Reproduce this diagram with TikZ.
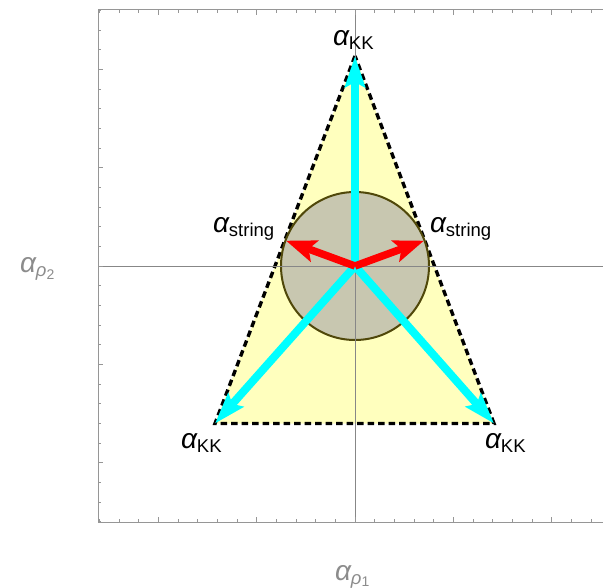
\documentclass[tikz,border=0pt]{standalone}
\usepackage{fontspec}
\setmainfont{Liberation Sans}
\usetikzlibrary{arrows.meta}
\definecolor{triyellow}{RGB}{255,255,190}
\definecolor{discfill}{RGB}{200,199,176}
\definecolor{discedge}{RGB}{80,72,10}
\definecolor{framegray}{RGB}{150,150,150}
\definecolor{axisgray}{RGB}{135,135,135}
\definecolor{labgray}{RGB}{140,140,140}
\newcommand{\alp}{{\fontsize{28}{28}\selectfont\itshape α}}
\newcommand{\sbt}[1]{\raisebox{-4pt}{\fontsize{18.5}{18.5}\selectfont #1}}
\begin{document}
\begin{tikzpicture}[x=1pt,y=-1pt,
  lab/.style={inner sep=0pt, outer sep=0pt, anchor=base west, text=black},
  axlab/.style={inner sep=0pt, outer sep=0pt, anchor=base west, text=labgray},
  cyanarrow/.style={draw={rgb,255:red,0;green,255;blue,255}, line width=8pt,
    -{Stealth[length=31pt,width=20pt,inset=5pt]}},
  redarrow/.style={draw=red, line width=7.5pt,
    -{Stealth[length=30pt,width=22pt,inset=6pt]}},
  framestyle/.style={draw=framegray, line width=1pt},
  axisstyle/.style={draw=axisgray, line width=0.9pt},
  tickstyle/.style={draw=framegray, line width=0.8pt},
  dashedtri/.style={draw=black, line width=3.4pt, dash pattern=on 6.5pt off 4pt}]
\useasboundingbox (0,0) rectangle (603,588);
% key points
\coordinate (O) at (355,266);
\coordinate (A) at (355,56);
\coordinate (B) at (215,423.5);
\coordinate (C) at (494,423.5);
\coordinate (SL) at (286,240.7);
\coordinate (SR) at (424,240.7);
\coordinate (FTR) at (603,10);
\coordinate (FTL) at (98,10);
\coordinate (FBL) at (98,522);
\coordinate (FBR) at (603,522);
\coordinate (HL) at (98,266);
\coordinate (HR) at (603,266);
\coordinate (VT) at (355,10);
\coordinate (VB) at (355,522);
% fills
\fill[triyellow] (A) -- (B) -- (C) -- cycle;
\draw[dashedtri] (A) -- (B) -- (C) -- cycle;
\draw[draw=discedge, line width=2pt, fill=discfill] (O) circle[radius=74];
% axes
\draw[axisstyle] (HL) -- (HR);
\draw[axisstyle] (VT) -- (VB);
% frame
\draw[framestyle] (FTR) -- (FTL) -- (FBL) -- (FBR);
\foreach \k in {-13,...,12} {
  \pgfmathsetmacro\tl{ifthenelse(mod(\k,5)==0,5,3)}
  \draw[tickstyle] ({355+19.66*\k},10) -- ++(0,\tl);
  \draw[tickstyle] ({355+19.66*\k},522) -- ++(0,-\tl);
}
\foreach \k in {-13,...,13} {
  \pgfmathsetmacro\tl{ifthenelse(mod(\k,5)==0,5,3)}
  \draw[tickstyle] (98,{266+19.66*\k}) -- ++(\tl,0);
}
% arrows
\draw[cyanarrow] (O) -- (A);
\draw[cyanarrow] (O) -- (B);
\draw[cyanarrow] (O) -- (C);
\draw[redarrow] (O) -- (SL);
\draw[redarrow] (O) -- (SR);
% labels
\node[lab] (lA) at (333,46) {\alp\sbt{KK}};
\node[lab] (lB) at (181,448) {\alp\sbt{KK}};
\node[lab] (lC) at (485,448) {\alp\sbt{KK}};
\node[lab] (lSL) at (213,233) {\alp\sbt{string}};
\node[lab] (lSR) at (430,233) {\alp\sbt{string}};
\node[axlab] (lx) at (335,580) {\alp\sbt{\itshape ρ\normalfont\fontsize{14}{14}\selectfont\raisebox{-2pt}{1}}};
\node[axlab] (ly) at (20,273) {\alp\sbt{\itshape ρ\normalfont\fontsize{14}{14}\selectfont\raisebox{-2pt}{2}}};
\end{tikzpicture}
\end{document}
